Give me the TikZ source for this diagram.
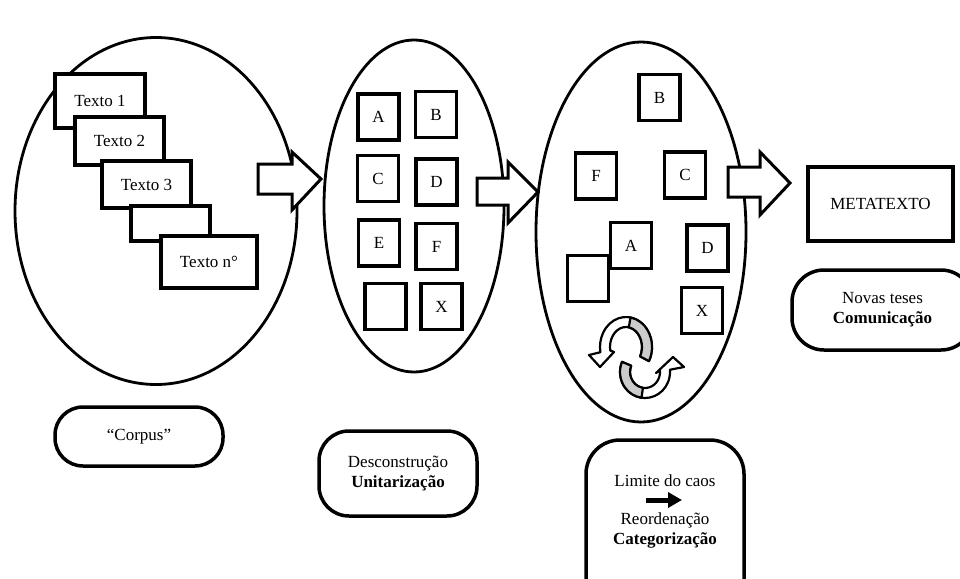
\documentclass[tikz,border=0pt]{standalone}
\usepackage{fontspec}
\setmainfont{Liberation Serif}
\usetikzlibrary{shapes.geometric,calc,arrows.meta}

\begin{document}
\begin{tikzpicture}[x=1pt,y=-1pt,
    font=\fontsize{17}{20}\selectfont,
    stage/.style ={ellipse, draw, line width=2.8pt, inner sep=0pt},
    card/.style ={rectangle, draw, line width=3.5pt, fill=white, inner sep=0pt},
    letter/.style ={card, minimum width=41, minimum height=46},
    caption/.style ={rectangle, draw, line width=3.5pt, rounded corners=28pt, align=center, inner sep=0pt},
    blockarrow/.style ={draw, line width=3pt, fill=white, line join=miter},
    band/.style ={draw, line width=2.2pt, fill=white, line join=round},
    bandshade/.style ={draw, line width=2.2pt, fill=gray!40, line join=round}]
   \useasboundingbox (0,0) rectangle (960,578);
   \clip (0,0) rectangle (960,578);
   \node[stage, minimum width=282, minimum height=347] (corpus) at (156,211) {};
   \node[stage, minimum width=180, minimum height=332] (unit) at (414,206) {};
   \node[stage, minimum width=210, minimum height=380] (categ) at (641,232) {};
   \draw[blockarrow] (258,164) -- (292,164) -- (292,152) -- (321,179) -- (292,210) -- (292,194) -- (258,194) -- cycle;
   \draw[blockarrow] (477,178) -- (508,178) -- (508,162) -- (538,192) -- (508,223) -- (508,205) -- (477,205) -- cycle;
   \draw[blockarrow] (728,167) -- (760,167) -- (760,152) -- (790,183) -- (760,215) -- (760,197) -- (728,197) -- cycle;
   \node[card, minimum width=90, minimum height=54] (t1) at (100,101) {Texto 1};
   \node[card, minimum width=89, minimum height=48] (t2) at (119.5,141) {Texto 2};
   \node[card, minimum width=89, minimum height=47] (t3) at (146.5,184.5) {Texto 3};
   \node[card, minimum width=79, minimum height=35] (t4) at (170.5,223.5) {};
   \node[card, minimum width=96, minimum height=52] (tn) at (209,262) {Texto n°};
   \node[letter] (uA) at (378.5,117) {A};
   \node[letter] (uB) at (436,114.5) {B};
   \node[letter] (uC) at (378,178.5) {C};
   \node[letter] (uD) at (436.5,182) {D};
   \node[letter] (uE) at (379,243) {E};
   \node[letter] (uF) at (436.5,246.5) {F};
   \node[letter] (u0) at (385.5,306.5) {};
   \node[letter] (uX) at (441.5,306.5) {X};
   \node[letter] (cB) at (659.5,97.5) {B};
   \node[letter] (cF) at (596,176) {F};
   \node[letter] (cC) at (685,175) {C};
   \node[letter] (cA) at (631,245.5) {A};
   \node[letter] (c0) at (588,278.5) {};
   \node[letter] (cD) at (707.5,248) {D};
   \node[letter] (cX) at (702,310.5) {X};
   \coordinate (up) at (626,347);
   \coordinate (low) at (645,372);
   \path[band] ($(up)+(28:26 and 30)$) arc[start angle=28, end angle=-190, x radius=26, y radius=30]
      -- (589,355) -- (600,367) -- (614,352) -- ($(up)+(-190:16 and 20)$)
      arc[start angle=-190, end angle=28, x radius=16, y radius=20] -- cycle;
   \path[bandshade] ($(up)+(28:26 and 30)$) arc[start angle=28, end angle=-80, x radius=26, y radius=30]
      -- ($(up)+(-80:16 and 20)$) arc[start angle=-80, end angle=28, x radius=16, y radius=20] -- cycle;
   \path[band] ($(low)+(-157:25 and 26)$) arc[start angle=-157, end angle=-365, x radius=25, y radius=26]
      -- (684,367) -- (673,357) -- (656,373) -- ($(low)+(-365:15 and 16)$)
      arc[start angle=-365, end angle=-157, x radius=15, y radius=16] -- cycle;
   \path[bandshade] ($(low)+(-157:25 and 26)$) arc[start angle=-157, end angle=-262, x radius=25, y radius=26]
      -- ($(low)+(-262:15 and 16)$) arc[start angle=-262, end angle=-157, x radius=15, y radius=16] -- cycle;
   \node[card, line width=4.5pt, minimum width=145, minimum height=74] (meta) at (880.5,204) {METATEXTO};
   \node[caption, minimum width=168, minimum height=59] (corpusnote) at (139,436.5) {“Corpus”};
   \node[caption, minimum width=158, minimum height=85, rounded corners=30pt] (unitnote) at (398,473.5) {Desconstrução\\\textbf{Unitarização}};
   \node[caption, minimum width=181, minimum height=80, rounded corners=32pt] (thesis) at (882.5,310) {Novas teses\\\textbf{Comunicação}};
   \node[caption, minimum width=158, minimum height=178, rounded corners=34pt] (chaos) at (665,529) {};
   \node (caos) at (665,481) {Limite do caos};
   \node[align=center] (reord) at (665,530.5) {Reordenação\\\textbf{Categorização}};
   \coordinate (ar1) at (646,500);
   \coordinate (ar2) at (682,500);
   \draw[line width=5pt, -{Triangle[length=14pt,width=15pt]}] (ar1) -- (ar2);
\end{tikzpicture}
\end{document}
